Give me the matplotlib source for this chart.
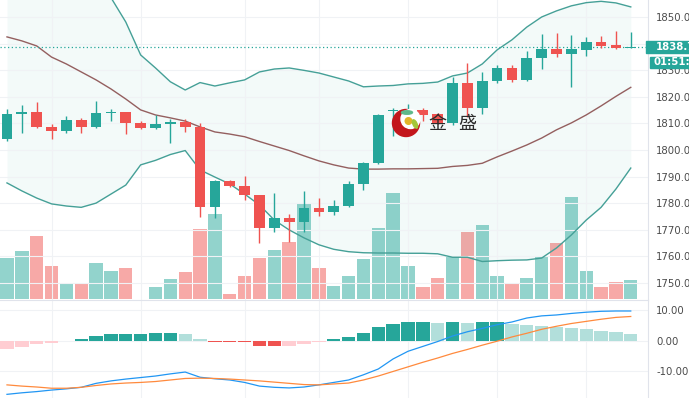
import numpy as np
import matplotlib
matplotlib.use("Agg")
import matplotlib.pyplot as plt
from matplotlib.patches import Circle, Ellipse, Rectangle
from matplotlib.ticker import FuncFormatter

# --- candle data ---
opens = [1804.0, 1813.6, 1814.3, 1808.6, 1807.3, 1811.3, 1808.6, 1814.1, 1814.2, 1810.3,
         1808.3, 1809.8, 1810.5, 1808.8, 1778.4, 1788.3, 1786.5, 1783.0, 1770.8, 1774.3,
         1772.9, 1778.1, 1776.8, 1779.0, 1787.2, 1795.0, 1814.6, 1813.6, 1815.1, 1813.5,
         1810.1, 1825.1, 1815.7, 1826.0, 1830.8, 1826.4, 1834.6, 1838.0, 1836.2, 1837.7,
         1840.8, 1839.6, 1838.6]
highs = [1815.5, 1817.0, 1818.0, 1809.7, 1812.8, 1812.2, 1818.6, 1815.5, 1814.4, 1811.1,
         1813.3, 1811.6, 1811.6, 1810.1, 1788.7, 1788.6, 1790.2, 1783.2, 1783.9, 1775.9,
         1784.7, 1781.8, 1781.2, 1788.3, 1795.6, 1813.6, 1815.9, 1817.2, 1816.0, 1813.8,
         1827.6, 1832.7, 1829.5, 1832.0, 1832.0, 1837.4, 1843.7, 1844.2, 1843.3, 1842.5,
         1843.0, 1845.0, 1844.6]
lows = [1803.5, 1806.5, 1808.4, 1804.0, 1806.3, 1806.5, 1808.4, 1811.0, 1805.9, 1808.0,
        1808.0, 1802.8, 1806.9, 1774.7, 1774.3, 1786.2, 1781.2, 1764.9, 1769.1, 1765.5,
        1769.1, 1775.2, 1775.5, 1778.7, 1785.0, 1794.8, 1805.3, 1812.8, 1810.9, 1809.9,
        1809.6, 1812.6, 1813.6, 1825.1, 1825.7, 1826.0, 1830.4, 1834.9, 1823.9, 1835.4,
        1838.3, 1838.0, 1838.4]
closes = [1813.6, 1814.3, 1808.6, 1807.3, 1811.3, 1808.6, 1814.1, 1814.4, 1810.1, 1808.3,
          1809.8, 1810.5, 1808.6, 1778.4, 1788.3, 1786.5, 1783.0, 1770.8, 1774.3, 1772.9,
          1778.1, 1776.8, 1779.0, 1787.2, 1795.0, 1813.2, 1815.0, 1815.1, 1813.0, 1810.3,
          1825.1, 1815.7, 1826.1, 1830.8, 1826.4, 1834.6, 1838.0, 1836.2, 1838.0, 1840.8,
          1839.3, 1838.6, 1838.73]
volumes = [1640, 1940, 2530, 1345, 665, 600, 1440, 1145, 1240, 25,
           480, 810, 1080, 2810, 3410, 200, 930, 1640, 1970, 2305,
           3800, 1265, 545, 930, 1610, 2865, 4265, 1345, 480, 865,
           1730, 2705, 2970, 930, 600, 840, 1680, 2265, 4080, 1145,
           480, 680, 770]

# bollinger bands
bb_upper = [1884, 1882, 1880, 1878, 1875, 1871, 1866, 1857.4, 1848.2, 1835.8,
            1830.9, 1825.7, 1822.6, 1825.4, 1824.1, 1825.3, 1826.4, 1829.4, 1830.5, 1830.9,
            1830.0, 1829.0, 1827.5, 1826.0, 1823.8, 1824.1, 1824.3, 1824.9, 1825.1, 1825.6,
            1827.9, 1829.0, 1832.4, 1837.7, 1841.5, 1846.3, 1850.1, 1852.4, 1854.3, 1855.5,
            1856.0, 1855.4, 1853.9]
bb_mid = [1842.6, 1841.1, 1839.2, 1835.0, 1832.4, 1829.4, 1826.4, 1823.0, 1819.2, 1815.1,
          1813.2, 1812.1, 1810.9, 1808.7, 1806.8, 1806.0, 1805.0, 1803.2, 1801.5, 1799.8,
          1797.8, 1795.9, 1794.4, 1793.2, 1792.8, 1792.8, 1792.9, 1792.9, 1793.0, 1793.1,
          1793.8, 1794.2, 1795.0, 1797.4, 1799.6, 1801.9, 1804.5, 1807.6, 1810.2, 1813.2,
          1816.6, 1820.2, 1823.6]
bb_lower = [1787.6, 1784.6, 1781.9, 1779.7, 1778.9, 1778.4, 1780.0, 1783.4, 1786.8, 1794.4,
            1796.1, 1798.3, 1799.8, 1792.5, 1789.8, 1787.2, 1783.4, 1779.3, 1773.6, 1769.9,
            1766.9, 1764.3, 1762.6, 1761.7, 1761.3, 1761.2, 1761.2, 1761.1, 1761.1, 1760.9,
            1759.6, 1759.6, 1758.0, 1758.3, 1758.5, 1758.6, 1759.3, 1763.1, 1768.0, 1773.6,
            1778.4, 1785.3, 1793.2]

# MACD
macd_line = [-17.6, -17.1, -16.7, -16.2, -15.8, -15.3, -14.0, -13.2, -12.6, -12.1,
             -11.6, -10.9, -10.3, -12.0, -12.5, -12.9, -13.7, -14.9, -15.3, -15.5,
             -15.2, -14.5, -13.7, -12.9, -11.2, -9.3, -6.0, -3.5, -1.9, -0.3,
             1.5, 2.9, 4.0, 5.2, 6.1, 7.4, 8.1, 8.4, 8.9, 9.3,
             9.6, 9.7, 9.7]
signal_line = [-14.5, -14.9, -15.2, -15.6, -15.6, -15.3, -14.7, -14.2, -13.9, -13.7,
               -13.4, -12.9, -12.4, -12.3, -12.4, -12.6, -12.9, -13.2, -13.6, -14.0,
               -14.4, -14.5, -14.2, -13.9, -12.9, -11.6, -10.1, -8.6, -7.1, -5.7,
               -4.2, -2.9, -1.5, -0.2, 1.2, 2.4, 3.7, 4.7, 5.6, 6.3,
               7.0, 7.6, 7.9]
macd_hist = [-2.8, -2.0, -1.1, -0.65, -0.1, 0.65, 1.5, 2.1, 2.2, 2.25,
             2.4, 2.45, 2.3, 0.4, -0.4, -0.5, -0.6, -1.75, -1.8, -1.75,
             -1.0, -0.55, 0.55, 1.3, 2.6, 4.4, 5.5, 6.0, 6.2, 5.9,
             6.2, 5.9, 5.95, 6.0, 5.5, 5.1, 4.8, 4.4, 4.0, 3.8,
             3.3, 2.7, 2.1]

countdown = "01:51:10"
grid_idx = [3, 9, 16, 21, 27, 33, 39]

UP = '#26a69a'
DOWN = '#ef5350'
GRID = '#f0f2f5'

o = np.array(opens); c = np.array(closes)
h = np.array(highs); l = np.array(lows)
x = np.arange(len(o))
up = c >= o

W, H = 689, 398
fig = plt.figure(figsize=(W / 100, H / 100), dpi=100)
right = 648 / W
split = (H - 300) / H
main_rect = [0, split, right, 1 - split]

# volume axes sits behind the price axes
axv = fig.add_axes(main_rect)
ax = fig.add_axes(main_rect)
ax.patch.set_visible(False)
axm = fig.add_axes([0, 0, right, split])

xl = (-0.47, 43.16)

vol_col = np.where(up, '#92d3cc', '#f7a9a7')
axv.bar(x, volumes, width=0.9, color=vol_col)
axv.set_xlim(xl)
axv.set_ylim(-28, 11972)
axv.axis('off')

# bollinger
ax.fill_between(x, bb_lower, bb_upper, color=UP, alpha=0.055, lw=0, zorder=1)
ax.plot(x, bb_upper, color='#45a097', lw=1, zorder=2)
ax.plot(x, bb_lower, color='#45a097', lw=1, zorder=2)
ax.plot(x, bb_mid, color='#945f5f', lw=1, zorder=2)

# candles
col = np.where(up, UP, DOWN)
ax.vlines(x, l, h, colors=col, lw=1, zorder=3)
body = np.maximum(np.abs(c - o), 0.35)
ax.bar(x, body, bottom=np.minimum(o, c), width=0.72, color=col, zorder=4)

last = closes[-1]
ax.axhline(last, color=UP, lw=0.9, ls=(0, (1, 2)), zorder=2)


def price_fmt(v, p):
    # the label nearest the last price sits under the price tag
    if abs(v - last) < 3:
        return ''
    return f'{v:.2f}'


ax.set_xlim(xl)
ax.set_ylim(1743.5, 1856.5)
ax.yaxis.tick_right()
ax.set_yticks(np.arange(1750, 1851, 10))
ax.yaxis.set_major_formatter(FuncFormatter(price_fmt))
ax.set_xticks(grid_idx)
ax.tick_params(axis='x', length=0, labelbottom=False)
ax.tick_params(axis='y', length=0, pad=5.8, labelsize=7.3, labelcolor='#4a4a4a')
ax.grid(True, color=GRID, lw=0.8, zorder=0)
for s in ['top', 'left', 'bottom']:
    ax.spines[s].set_visible(False)
ax.spines['right'].set_color('#e0e3eb')

# MACD panel
hcol = []
prev = -np.inf
for v in macd_hist:
    rising = v >= prev
    if v >= 0:
        hcol.append('#26a69a' if rising else '#b2dfdb')
    else:
        hcol.append('#ffcdd2' if rising else '#ef5350')
    prev = v
axm.bar(x, macd_hist, width=0.9, color=hcol, zorder=2)
axm.plot(x, macd_line, color='#2196f3', lw=0.9, zorder=3)
axm.plot(x, signal_line, color='#ff8a3d', lw=0.9, zorder=3)
axm.set_xlim(xl)
axm.set_ylim(-18.8, 13.3)
axm.yaxis.tick_right()
axm.set_yticks([-10, 0, 10])
axm.yaxis.set_major_formatter(FuncFormatter(lambda v, p: f'{v:.2f}'))
axm.set_xticks(grid_idx)
axm.tick_params(axis='x', length=0, labelbottom=False)
axm.tick_params(axis='y', length=0, pad=5.8, labelsize=7.3, labelcolor='#4a4a4a')
axm.grid(True, color=GRID, lw=0.8, zorder=0)
for s in ['left', 'bottom']:
    axm.spines[s].set_visible(False)
axm.spines['top'].set_color('#e0e3eb')
axm.spines['right'].set_color('#e0e3eb')

# overlay in pixel coordinates: price tags and watermark
ov = fig.add_axes([0, 0, 1, 1])
ov.set_xlim(0, W)
ov.set_ylim(H, 0)
ov.axis('off')
ov.patch.set_visible(False)

py = H - ax.transData.transform((0, last))[1]
ov.add_patch(Rectangle((646, py - 6), 50, 12, color=UP, zorder=5))
ov.text(656, py, f'{last:.2f}', color='white', fontsize=7.3, fontweight='bold',
        va='center', ha='left', zorder=6)
ov.add_patch(Rectangle((650, py + 9.5), 46, 11, color=UP, zorder=5))
ov.text(653, py + 15, countdown, color='white', fontsize=7.3, fontweight='bold',
        va='center', ha='left', zorder=6)

# watermark logo
ov.add_patch(Circle((406, 123), 13.5, color='#c3161c', zorder=7))
ov.add_patch(Circle((410.5, 119), 9.5, color='white', zorder=8))
ov.add_patch(Ellipse((407, 112.5), 11, 3.5, color='#5fb88a', zorder=9))
ov.add_patch(Circle((408.5, 121), 3.3, color='#e3b52a', zorder=9))
ov.add_patch(Ellipse((415, 124), 4, 9, angle=-25, color='#a4c639', zorder=9))
cjk = ['Noto Sans CJK SC', 'DejaVu Sans']
ov.text(437, 123.5, '金', family=cjk, fontsize=13, color='#2b2b2b',
        ha='center', va='center', zorder=9)
ov.text(467, 123.5, '盛', family=cjk, fontsize=13, color='#2b2b2b',
        ha='center', va='center', zorder=9)

fig.savefig('out.png', dpi=100)
